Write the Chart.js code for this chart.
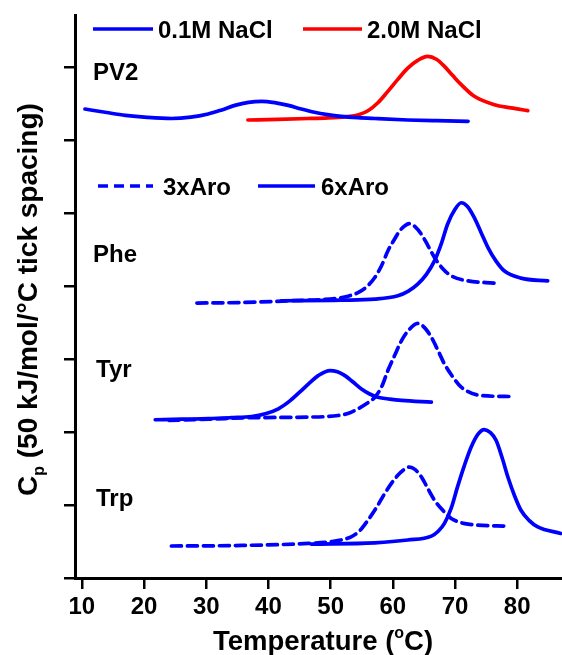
<!DOCTYPE html>
<html><head><meta charset="utf-8">
<script src="https://cdn.jsdelivr.net/npm/chart.js@4.4.0/dist/chart.umd.min.js"></script>
<style>html,body{margin:0;padding:0;background:#fff;}</style>
</head><body>
<canvas id="c" width="562" height="655"></canvas>
<script>
// ---- data (Cp in kJ/mol/°C, offset stacked; tick spacing = 50) ----
const pv2LowT  = [10.5, 14, 17, 20.5, 24.4, 27.5, 30.3, 32.5, 34.6, 36.8, 38.9, 41, 43.2, 45.3, 47.4, 49.5, 51.7, 54.4, 57.1, 62.4, 67, 72.1];
const pv2LowCp = [321.2, 318.8, 316.9, 315.5, 314.7, 315.6, 317.8, 320.6, 323.7, 325.8, 326.5, 325.6, 323.7, 321.2, 319.0, 317.4, 316.2, 315.3, 314.7, 313.7, 313.2, 312.8];
const pv2HighT  = [36.7, 41.5, 46.4, 49.6, 52.8, 54.5, 56.0, 57.6, 59.2, 60.8, 62.4, 64.0, 65.6, 67.0, 68.3, 69.6, 71.0, 73.1, 76.3, 79, 81.7];
const pv2HighCp = [313.7, 314.1, 314.7, 315.2, 316.0, 317.3, 320.0, 325.5, 333.3, 341.5, 349.2, 354.5, 357.2, 355.3, 350.4, 344.3, 337.9, 329.9, 324.2, 322, 320.1];

const phe3T  = [28.5, 35.7, 43.7, 50.7, 52.8, 54.4, 55.8, 57.1, 58.2, 59.2, 60.2, 61.1, 62.0, 62.7, 63.6, 64.6, 65.6, 66.7, 68.0, 69.4, 72.1, 76.3];
const phe3Cp = [188.3, 188.7, 189.9, 191.4, 193.0, 195.5, 199.5, 205.8, 214, 224.0, 231.5, 237.7, 241.5, 242.7, 240.5, 235.4, 228, 219.5, 212, 206.9, 203.5, 202.0];
const phe6T  = [42.1, 51.7, 57.1, 60.8, 62.5, 64.0, 65.4, 66.7, 67.8, 68.8, 70.0, 71.0, 72.0, 73.1, 74.2, 75.3, 76.6, 77.9, 80.6, 84.9];
const phe6Cp = [189.9, 190.3, 191.0, 193.3, 196.5, 201.3, 208, 217.2, 229, 242.3, 252.5, 257.0, 254.5, 246.8, 236.5, 226.3, 217, 210.4, 205.4, 203.5];

const tyr3T  = [24, 30.5, 37.3, 46.4, 51.2, 53, 54.4, 55.8, 57.1, 58.2, 59.2, 60.3, 61.4, 62.7, 64.0, 65.1, 66.2, 67.3, 68.3, 69.6, 71.0, 74.2, 79.0];
const tyr3Cp = [108.0, 108.8, 109.8, 110.2, 111.3, 113, 115.9, 119.5, 123.8, 131, 142.1, 152.5, 162.6, 170.5, 174.4, 171.5, 164.8, 155.5, 146.6, 138, 130.7, 125.0, 124.3];
const tyr6T  = [21.8, 26, 30.3, 34, 37.3, 39.5, 41.6, 43.5, 45.3, 46.7, 48.0, 49.9, 51.1, 52.3, 53.6, 54.9, 56.2, 57.6, 59.5, 61.4, 66.2];
const tyr6Cp = [108.4, 108.8, 109.1, 109.8, 110.6, 112.5, 115.9, 121.5, 128.4, 134, 138.6, 142.1, 141.2, 138.6, 134.2, 129.6, 126.2, 123.8, 122.5, 121.6, 120.4];

const trp3T  = [24.4, 35.7, 46.4, 50.5, 53.3, 54.7, 56.0, 57.4, 58.7, 59.8, 60.8, 61.8, 62.7, 63.6, 64.6, 65.6, 66.7, 68.0, 69.4, 72.1, 78.5];
const trp3Cp = [21.9, 22.3, 23.7, 25.2, 28.2, 32.5, 39.6, 48.5, 57.9, 65, 70.3, 74.2, 76.0, 74.2, 69.2, 61.5, 53.3, 46.5, 40.8, 36.9, 35.5];
const trp6T  = [46.9, 57.1, 62.4, 66.2, 67.3, 68.3, 69.4, 70.4, 71.5, 72.6, 73.7, 74.7, 75.7, 76.6, 77.6, 78.5, 79.6, 80.6, 81.9, 83.3, 87.0];
const trp6Cp = [23.2, 24.1, 26.0, 28.7, 32, 37.4, 48, 62.4, 77, 89.7, 98.5, 101.6, 99.5, 94.3, 82, 69.2, 56, 46.4, 39.5, 35.0, 30.5];

const xTicks = [10, 20, 30, 40, 50, 60, 70, 80];
const yTicks = [0, 50, 100, 150, 200, 250, 300, 350];
const groupLabels = ['PV2', 'Phe', 'Tyr', 'Trp'];
const legendLabels = ['0.1M NaCl', '2.0M NaCl', '3xAro', '6xAro'];

// ---- styling ----
const FONT = '"Liberation Sans", Arial, Helvetica, sans-serif';
const BLUE = 'rgb(0,0,255)', RED = 'rgb(255,0,0)';
const DASH = [10, 6];
const pts = (t, v) => t.map((x, i) => ({x, y: v[i]}));
const ds = (t, v, color, dashed) => ({
  data: pts(t, v), borderColor: color, borderWidth: 3.7, borderDash: dashed ? DASH : [],
  pointRadius: 0, fill: false, cubicInterpolationMode: 'monotone', borderCapStyle: 'round'
});

const datasets = [
  ds(pv2LowT, pv2LowCp, BLUE, false),
  ds(pv2HighT, pv2HighCp, RED, false),
  ds(phe3T, phe3Cp, BLUE, true),
  ds(phe6T, phe6Cp, BLUE, false),
  ds(tyr3T, tyr3Cp, BLUE, true),
  ds(tyr6T, tyr6Cp, BLUE, false),
  ds(trp3T, trp3Cp, BLUE, true),
  ds(trp6T, trp6Cp, BLUE, false)
];

const annot = {
  id: 'annot',
  afterDraw(chart) {
    const c = chart.ctx;
    c.save();
    c.fillStyle = '#000';
    c.textAlign = 'left';
    c.textBaseline = 'alphabetic';
    // group labels
    c.font = 'bold 24px ' + FONT;
    c.fillText(groupLabels[0], 93, 80);
    c.fillText(groupLabels[1], 93, 262);
    c.fillText(groupLabels[2], 96, 377);
    c.fillText(groupLabels[3], 96, 506);

    // legends
    const item = (x1, x2, y, color, dash, text, tx) => {
      c.save();
      c.strokeStyle = color; c.lineWidth = 3.7; c.setLineDash(dash);
      c.beginPath(); c.moveTo(x1, y); c.lineTo(x2, y); c.stroke();
      c.restore();
      c.fillStyle = '#000';
      c.font = 'bold 24px ' + FONT;
      c.fillText(text, tx, y + 8.5);
    };
    item(93, 153, 29, BLUE, [], legendLabels[0], 158);
    item(303, 362, 29, RED, [], legendLabels[1], 367);
    item(98, 153, 186, BLUE, DASH, legendLabels[2], 163);
    item(258, 315, 186, BLUE, [], legendLabels[3], 321);

    // x title with superscript o
    c.font = 'bold 27.5px ' + FONT;
    let x = 213; const yb = 650;
    const s1 = 'Temperature (';
    c.fillText(s1, x, yb); x += c.measureText(s1).width;
    c.font = 'bold 16px ' + FONT;
    c.fillText('o', x, yb - 12); x += c.measureText('o').width;
    c.font = 'bold 27.5px ' + FONT;
    c.fillText('C)', x, yb);

    // y title with subscript p
    c.translate(37, 496);
    c.rotate(-Math.PI / 2);
    c.font = 'bold 28px ' + FONT;
    let yx = 0;
    c.fillText('C', yx, 0); yx += c.measureText('C').width;
    c.font = 'bold 16px ' + FONT;
    c.fillText('p', yx, 7); yx += c.measureText('p').width;
    c.font = 'bold 28px ' + FONT;
    c.fillText(' (50 kJ/mol/\u00B0C tick spacing)', yx, 0);
    c.restore();
  }
};

new Chart(document.getElementById('c').getContext('2d'), {
  type: 'line',
  data: {datasets},
  options: {
    responsive: false,
    animation: false,
    layout: {padding: {top: 15, left: 0, right: 0, bottom: 0}},
    plugins: {legend: {display: false}, tooltip: {enabled: false}},
    scales: {
      x: {
        type: 'linear', min: 8.9, max: 87.2,
        afterBuildTicks: s => { s.ticks = xTicks.map(v => ({value: v})); },
        afterFit: s => { s.height = 77; },
        grid: {drawOnChartArea: false, drawTicks: true, tickLength: 11, lineWidth: 2.5, color: '#000'},
        border: {display: true, color: '#000', width: 3},
        ticks: {font: {family: FONT, size: 24, weight: 'bold'}, color: '#000', padding: 4, maxRotation: 0, autoSkip: false}
      },
      y: {
        type: 'linear', min: 0, max: 385.6,
        afterBuildTicks: s => { s.ticks = yTicks.map(v => ({value: v})); },
        afterFit: s => { s.width = 75; },
        grid: {drawOnChartArea: false, drawTicks: true, tickLength: 11, lineWidth: 2.5, color: '#000'},
        border: {display: true, color: '#000', width: 3},
        ticks: {callback: () => '', padding: 0}
      }
    }
  },
  plugins: [annot]
});
</script>
</body></html>
